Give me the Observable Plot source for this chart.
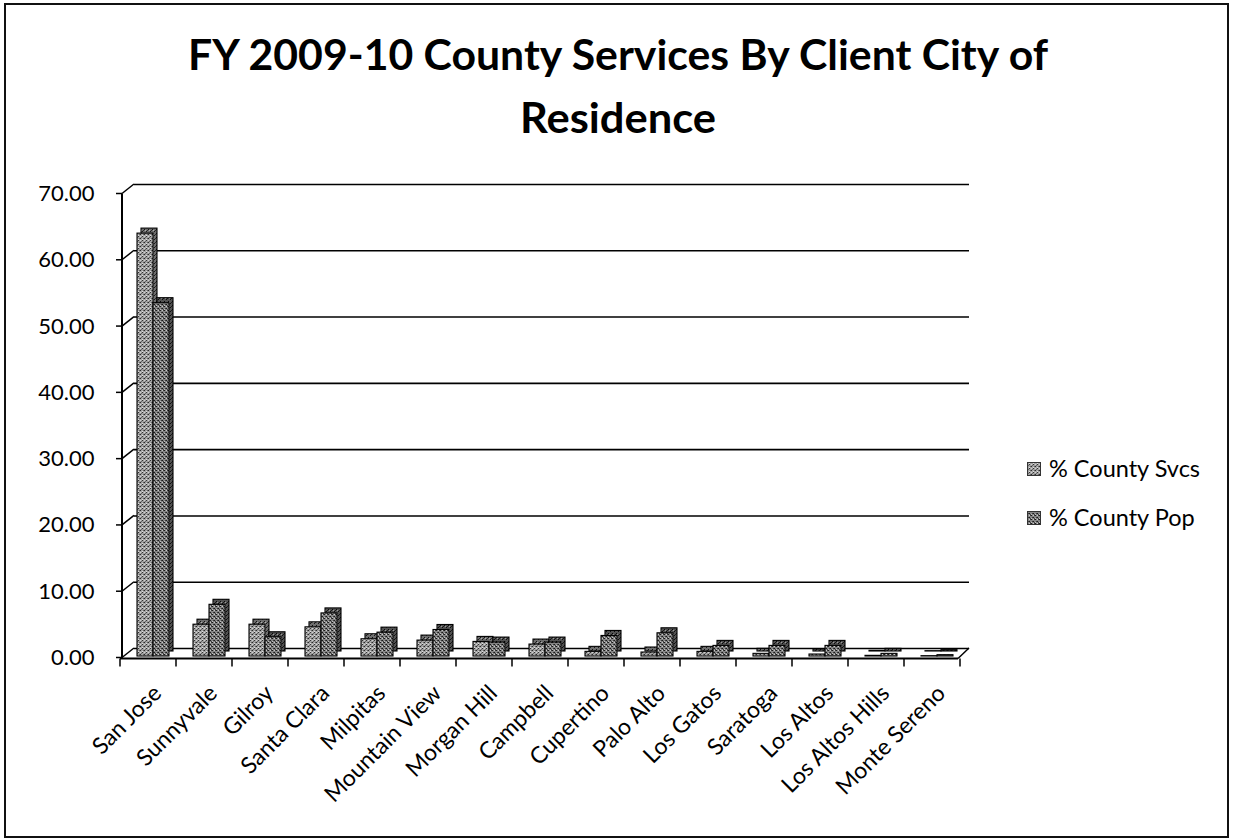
<!DOCTYPE html>
<html><head><meta charset="utf-8">
<script src="https://cdn.jsdelivr.net/npm/d3@7"></script>
<script src="https://cdn.jsdelivr.net/npm/@observablehq/plot@0.6"></script>
<style>
html,body{margin:0;padding:0;background:#fff;}
#wrap{position:relative;width:1233px;height:840px;overflow:hidden;font-family:Lato,"Open Sans",sans-serif;background:#fff;}
#frame{position:absolute;left:4px;top:3px;width:1221px;height:831px;border:2px solid #111;}
#title{position:absolute;left:0;top:0;}
#chart{position:absolute;left:0;top:150px;}
#legend{position:absolute;left:1027px;top:451px;font-size:23.5px;color:#000;line-height:1;}
#legend .row{display:flex;align-items:center;height:36px;margin-bottom:13px;}
#legend svg{margin-right:8px;}
</style></head>
<body>
<svg width="0" height="0" style="position:absolute">
<defs>
<pattern id="svFront" width="4" height="4" patternUnits="userSpaceOnUse"><rect width="4" height="4" fill="#a2a2a2"/><rect x="0" y="0" width="1" height="1" fill="#2a2a2a"/><rect x="2" y="2" width="1" height="1" fill="#333"/><rect x="3" y="0" width="1" height="1" fill="#666"/><rect x="1" y="3" width="1" height="1" fill="#666"/><rect x="2" y="1" width="1" height="1" fill="#dcdcdc"/><rect x="0" y="2" width="1" height="1" fill="#d0d0d0"/></pattern>
<pattern id="svSide" width="4" height="4" patternUnits="userSpaceOnUse"><rect width="4" height="4" fill="#6e6e6e"/><rect x="0" y="0" width="1" height="1" fill="#111"/><rect x="2" y="2" width="1" height="1" fill="#1a1a1a"/><rect x="3" y="1" width="1" height="1" fill="#2a2a2a"/><rect x="1" y="1" width="1" height="1" fill="#b0b0b0"/></pattern>
<pattern id="popFront" width="4" height="4" patternUnits="userSpaceOnUse"><rect width="4" height="4" fill="#858585"/><rect x="0" y="0" width="1" height="1" fill="#1a1a1a"/><rect x="2" y="2" width="1" height="1" fill="#1a1a1a"/><rect x="1" y="2" width="1" height="1" fill="#3c3c3c"/><rect x="3" y="0" width="1" height="1" fill="#3c3c3c"/><rect x="3" y="3" width="1" height="1" fill="#444"/><rect x="2" y="0" width="1" height="1" fill="#c8c8c8"/><rect x="0" y="3" width="1" height="1" fill="#bdbdbd"/></pattern>
<pattern id="popSide" width="4" height="4" patternUnits="userSpaceOnUse"><rect width="4" height="4" fill="#525252"/><rect x="0" y="0" width="1" height="1" fill="#080808"/><rect x="2" y="2" width="1" height="1" fill="#0d0d0d"/><rect x="3" y="1" width="1" height="1" fill="#1a1a1a"/><rect x="1" y="1" width="1" height="1" fill="#9a9a9a"/></pattern>
</defs>
</svg>
<div id="wrap">
  <div id="frame"></div>
  <svg id="title" width="1233" height="150"></svg>
  <div id="chart"></div>
  <div id="legend"></div>
</div>
<script>
// ---- data ----
const titleLines = ["FY 2009-10 County Services By Client City of", "Residence"];
const cities = ["San Jose", "Sunnyvale", "Gilroy", "Santa Clara", "Milpitas", "Mountain View", "Morgan Hill", "Campbell", "Cupertino", "Palo Alto", "Los Gatos", "Saratoga", "Los Altos", "Los Altos Hills", "Monte Sereno"];
const svcs = [63.8, 4.8, 4.8, 4.4, 2.6, 2.4, 2.2, 1.8, 0.7, 0.6, 0.7, 0.4, 0.3, 0.1, 0.05];
const pop  = [53.3, 7.8, 2.9, 6.5, 3.6, 4.0, 2.1, 2.1, 3.1, 3.5, 1.6, 1.6, 1.6, 0.4, 0.2];
const seriesNames = ["% County Svcs", "% County Pop"];
const yTicks = [0, 10, 20, 30, 40, 50, 60, 70];

const rows = cities.map((c, i) => ({city: c, svcs: svcs[i], pop: pop[i]}));

// ---- title ----
const tsvg = d3.select("#title");
const titleBase = [70, 133];
const titleWidths = [860, 196];
titleLines.forEach((t, i) => {
  tsvg.append("text")
    .attr("x", 618).attr("y", titleBase[i])
    .attr("text-anchor", "middle")
    .attr("font-family", "Lato, 'Open Sans', sans-serif")
    .attr("font-weight", 700)
    .attr("font-size", 42)
    .attr("fill", "#000")
    .attr("textLength", titleWidths[i]).attr("lengthAdjust", "spacingAndGlyphs")
    .text(t);
});

// ---- 3D frame (axis line, diagonals, floor, ticks) ----
function frame3d(index, scales, values, dims) {
  const y = scales.y, x = scales.x;
  const x0 = dims.marginLeft, x1 = dims.width - dims.marginRight;
  const g = d3.create("svg:g").attr("fill", "none").attr("stroke", "#000");
  const front = 1.5, back = -8, depthX = 14;
  g.append("line").attr("x1", x0 + 2).attr("x2", x0 + 2)
    .attr("y1", y(70) + front).attr("y2", y(0) + front + 1).attr("stroke-width", 2);
  for (const t of yTicks) {
    g.append("line").attr("x1", x0 - 4).attr("x2", x0 + 2)
      .attr("y1", y(t) + front).attr("y2", y(t) + front).attr("stroke-width", 1.5);
    g.append("line").attr("x1", x0 + 2).attr("x2", x0 + depthX)
      .attr("y1", y(t) + front).attr("y2", y(t) + back).attr("stroke-width", 1.5);
  }
  const yf = y(0) + front + 1;
  g.append("line").attr("x1", x0).attr("x2", x1 - 2).attr("y1", yf).attr("y2", yf).attr("stroke-width", 2);
  g.append("line").attr("x1", x1 - 2).attr("x2", x1 + depthX - 5).attr("y1", yf).attr("y2", y(0) + back).attr("stroke-width", 1.5);
  const bw = x.bandwidth ? x.bandwidth() : (x1 - x0) / cities.length;
  const bounds = cities.map(c => x(c)).concat([x(cities[cities.length - 1]) + bw]);
  for (const b of bounds) {
    g.append("line").attr("x1", b).attr("x2", b).attr("y1", yf).attr("y2", yf + 8).attr("stroke-width", 1.5);
  }
  return g.node();
}

const font = "Lato, 'Open Sans', sans-serif";
const chart = Plot.plot({
  width: 1233,
  height: 690,
  marginLeft: 120,
  marginRight: 273,
  marginTop: 42,
  marginBottom: 184,
  style: {fontFamily: font, background: "transparent", color: "#000", overflow: "visible"},
  x: {type: "band", domain: cities, paddingInner: 0, paddingOuter: 0, axis: null},
  y: {domain: [0, 70], axis: null},
  marks: [
    Plot.ruleY(yTicks, {y: d => d, dx: 14, dy: -8, insetRight: 5, stroke: "#000", strokeWidth: 1.6}),
    frame3d,
    Plot.text(yTicks, {y: d => d, text: d => d.toFixed(2), frameAnchor: "left", textAnchor: "end", dx: -26, dy: 1.5, fontSize: 22, fill: "#000"}),
    Plot.text(cities, {x: d => d, frameAnchor: "bottom", text: d => d, rotate: -45, textAnchor: "end", lineAnchor: "middle", dx: 9, dy: 33, fontSize: 23, fill: "#000"}),
    Plot.barY(rows, {x: "city", y: "svcs", insetLeft: 21, insetRight: 19, dy: -5, fill: "url(#svSide)", stroke: "#000", strokeWidth: 1.1}),
    Plot.barY(rows, {x: "city", y: "svcs", insetLeft: 17, insetRight: 23, fill: "url(#svFront)", stroke: "#000", strokeWidth: 1.1}),
    Plot.barY(rows, {x: "city", y: "pop", insetLeft: 37, insetRight: 3, dy: -5, fill: "url(#popSide)", stroke: "#000", strokeWidth: 1.1}),
    Plot.barY(rows, {x: "city", y: "pop", insetLeft: 33, insetRight: 7, fill: "url(#popFront)", stroke: "#000", strokeWidth: 1.1})
  ]
});
document.getElementById("chart").appendChild(chart);

// ---- legend ----
const legend = d3.select("#legend");
const swatches = ["url(#svFront)", "url(#popFront)"];
seriesNames.forEach((name, i) => {
  const row = legend.append("div").attr("class", "row");
  const s = row.append("svg").attr("width", 14).attr("height", 14);
  s.append("rect").attr("x", 0.5).attr("y", 0.5).attr("width", 13).attr("height", 13)
    .attr("fill", swatches[i]).attr("stroke", "#333").attr("stroke-width", 1);
  row.append("span").text(name);
});
</script>
</body></html>
